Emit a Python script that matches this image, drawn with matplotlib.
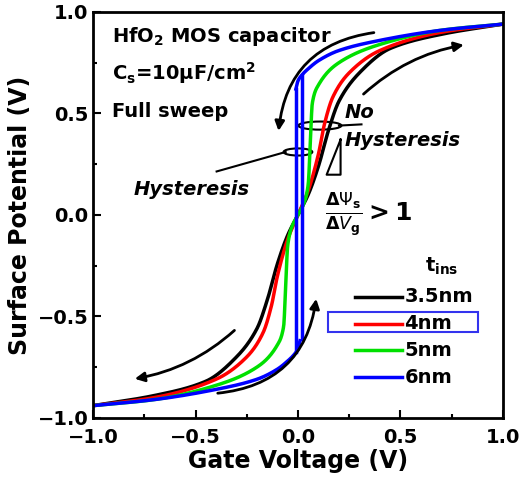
import numpy as np
import matplotlib
matplotlib.use("Agg")
import matplotlib.pyplot as plt
from matplotlib.patches import Ellipse, Rectangle

# upper half (x>=0) of the no-hysteresis curves; lower half is odd-symmetric
black_x = [0, 0.05, 0.1, 0.15, 0.2, 0.3, 0.45, 0.7, 1.0]
black_y = [0, 0.10, 0.24, 0.42, 0.56, 0.70, 0.82, 0.89, 0.94]
red_x = [0, 0.05, 0.1, 0.13, 0.17, 0.25, 0.4, 0.7, 1.0]
red_y = [0, 0.12, 0.30, 0.45, 0.58, 0.70, 0.81, 0.90, 0.94]
green_x = [0, 0.03, 0.05, 0.06, 0.07, 0.1, 0.2, 0.4, 0.7, 1.0]
green_y = [0, 0.06, 0.15, 0.35, 0.55, 0.64, 0.75, 0.84, 0.91, 0.94]
# blue (6nm) upper branch, hysteresis loop
blue_up_x = [-0.01, 0.0, 0.02, 0.05, 0.1, 0.2, 0.4, 0.7, 1.0]
blue_up_y = [0.62, 0.66, 0.69, 0.72, 0.76, 0.81, 0.86, 0.91, 0.94]
blue_jump_fwd = 0.02
blue_jump_back = -0.01

labels = ["3.5nm", "4nm", "5nm", "6nm"]
colors = ["black", "#ff0000", "#00e000", "#0000ff"]


def pchip(x, y, xf):
    # monotone cubic (Fritsch-Carlson)
    x = np.asarray(x, float); y = np.asarray(y, float)
    h = np.diff(x); d = np.diff(y) / h
    m = np.zeros_like(y)
    m[0], m[-1] = d[0], d[-1]
    for k in range(1, len(x) - 1):
        if d[k - 1] * d[k] > 0:
            w1 = 2 * h[k] + h[k - 1]; w2 = h[k] + 2 * h[k - 1]
            m[k] = (w1 + w2) / (w1 / d[k - 1] + w2 / d[k])
    i = np.clip(np.searchsorted(x, xf) - 1, 0, len(x) - 2)
    t = (xf - x[i]) / h[i]
    h00 = 2 * t**3 - 3 * t**2 + 1; h10 = t**3 - 2 * t**2 + t
    h01 = -2 * t**3 + 3 * t**2; h11 = t**3 - t**2
    return h00 * y[i] + h10 * h[i] * m[i] + h01 * y[i + 1] + h11 * h[i] * m[i + 1]


def odd_curve(xs, ys):
    xs = np.array(xs); ys = np.array(ys)
    x = np.concatenate([-xs[::-1], xs[1:]])
    y = np.concatenate([-ys[::-1], ys[1:]])
    xf = np.linspace(-1, 1, 800)
    return xf, pchip(x, y, xf)


fig = plt.figure(figsize=(5.2, 4.98), dpi=100)
ax = fig.add_axes([0.179, 0.161, 0.788, 0.815])

for (xs, ys), c in zip([(black_x, black_y), (red_x, red_y), (green_x, green_y)], colors[:3]):
    xf, yf = odd_curve(xs, ys)
    ax.plot(xf, yf, color=c, lw=2.5)

xf = np.linspace(blue_jump_back, 1, 400)
upper = pchip(blue_up_x, blue_up_y, xf)
ax.plot(xf, upper, color=colors[3], lw=2.5)
ax.plot(-xf, -upper, color=colors[3], lw=2.5)
top_f = pchip(blue_up_x, blue_up_y, np.array([blue_jump_fwd]))[0]
bot_f = -pchip(blue_up_x, blue_up_y, np.array([-blue_jump_fwd]))[0]
top_b = pchip(blue_up_x, blue_up_y, np.array([blue_jump_back]))[0]
bot_b = -pchip(blue_up_x, blue_up_y, np.array([-blue_jump_back]))[0]
ax.plot([blue_jump_fwd, blue_jump_fwd], [bot_f, top_f], color=colors[3], lw=2.5)
ax.plot([blue_jump_back, blue_jump_back], [top_b, bot_b], color=colors[3], lw=2.5)

ax.set_xlim(-1, 1)
ax.set_ylim(-1, 1)
ax.set_xticks([-1, -0.5, 0, 0.5, 1])
ax.set_yticks([-1, -0.5, 0, 0.5, 1])
ax.set_xticks(np.arange(-0.75, 1, 0.5), minor=True)
ax.set_yticks(np.arange(-0.75, 1, 0.5), minor=True)
ax.tick_params(direction="in", which="both", labelsize=14, width=1.5)
ax.tick_params(which="major", length=6)
ax.tick_params(which="minor", length=3)
ax.tick_params(axis="x", pad=7)
for lab in ax.get_xticklabels() + ax.get_yticklabels():
    lab.set_fontweight("bold")
for s in ax.spines.values():
    s.set_linewidth(2)
ax.set_xlabel("Gate Voltage (V)", fontsize=17, fontweight="bold", labelpad=2)
ax.set_ylabel("Surface Potential (V)", fontsize=17, fontweight="bold")

# sweep arrows
arw = dict(arrowstyle="-|>", color="black", lw=2, mutation_scale=14)
ax.annotate("", xy=(-0.096, 0.40), xytext=(0.384, 0.90),
            arrowprops=dict(connectionstyle="arc3,rad=0.4", **arw))
ax.annotate("", xy=(0.823, 0.84), xytext=(0.31, 0.586),
            arrowprops=dict(connectionstyle="arc3,rad=-0.15", **arw))
ax.annotate("", xy=(-0.81, -0.81), xytext=(-0.30, -0.56),
            arrowprops=dict(connectionstyle="arc3,rad=-0.15", **arw))
ax.annotate("", xy=(0.091, -0.40), xytext=(-0.405, -0.88),
            arrowprops=dict(connectionstyle="arc3,rad=0.4", **arw))

# hysteresis markers
ax.plot([-0.397, -0.06], [0.214, 0.31], color="black", lw=1.5)
ax.add_patch(Ellipse((0.0, 0.31), 0.14, 0.035, fill=False, lw=1.5))
ax.plot([0.31, 0.2], [0.446, 0.44], color="black", lw=1.5)
ax.add_patch(Ellipse((0.107, 0.44), 0.21, 0.04, fill=False, lw=1.5))
ax.plot([0.208, 0.208, 0.14, 0.208], [0.371, 0.198, 0.198, 0.371], color="black", lw=1.5)

ax.text(-0.91, 0.88, r"HfO$_\mathbf{2}$ MOS capacitor", fontsize=14, fontweight="bold", va="center")
ax.text(-0.91, 0.70, r"C$_\mathbf{s}$=10$\mathbf{\mu}$F/cm$^\mathbf{2}$", fontsize=14, fontweight="bold", va="center")
ax.text(-0.91, 0.51, "Full sweep", fontsize=14, fontweight="bold", va="center")
ax.text(0.23, 0.505, "No", fontsize=14, fontweight="bold", style="italic", va="center")
ax.text(0.23, 0.365, "Hysteresis", fontsize=14, fontweight="bold", style="italic", va="center")
ax.text(-0.80, 0.124, "Hysteresis", fontsize=14, fontweight="bold", style="italic", va="center")
ax.text(0.13, 0.0, r"$\mathbf{\frac{\Delta\mathit{\Psi}_s}{\Delta\mathit{V}_g}>1}$", fontsize=18, va="center")

# legend drawn by hand to match position
ax.text(0.70, -0.256, r"t$_\mathbf{ins}$", fontsize=14, fontweight="bold", ha="center", va="center")
leg_y = [-0.404, -0.536, -0.668, -0.80]
for y, c, lab in zip(leg_y, colors, labels):
    ax.plot([0.28, 0.51], [y, y], color=c, lw=2.5)
    ax.text(0.52, y, lab, fontsize=14, fontweight="bold", va="center")
ax.add_patch(Rectangle((0.147, -0.578), 0.732, 0.099, fill=False, ec="#3333ee", lw=1.5))

fig.savefig("out.png", dpi=100)
